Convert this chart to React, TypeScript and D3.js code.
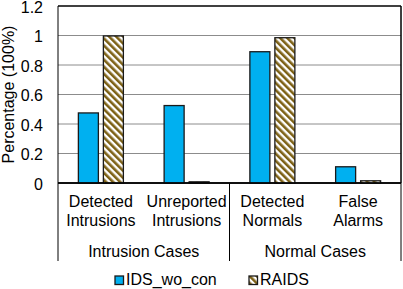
import React from 'react';
import * as d3 from 'd3';

const categories = ['Detected Intrusions', 'Unreported Intrusions', 'Detected Normals', 'False Alarms'];
const categoryLines = [['Detected', 'Intrusions'], ['Unreported', 'Intrusions'], ['Detected', 'Normals'], ['False', 'Alarms']];
const groups = ['Intrusion Cases', 'Normal Cases'];
const seriesNames = ['IDS_wo_con', 'RAIDS'];
const idsWoCon = [0.475, 0.525, 0.89, 0.11];
const raids = [0.997, 0.008, 0.985, 0.015];
const yTicks = [0, 0.2, 0.4, 0.6, 0.8, 1, 1.2];

const W = 403;
const H = 289;
const left = 58;
const right = 401;
const top = 6;
const bottom = 183;
const font = "'Liberation Sans', Arial, sans-serif";

export default function App() {
    const x = d3.scaleBand().domain(categories).range([left, right]).paddingInner(0).paddingOuter(0);
    const y = d3.scaleLinear().domain([0, 1.2]).range([bottom, top]);
    const barW = 20;
    const gap = 5;
    const series = [idsWoCon, raids];
    const fills = ['#00B0F0', 'url(#hatch)'];

    // group divider positions
    const groupEdges = [left, x(categories[2]) as number, right];

    return (
        <svg width={W} height={H} style={{ position: 'absolute', left: 0, top: 0, fontFamily: font }}>
            <defs>
                <pattern id="hatch" patternUnits="userSpaceOnUse" width="5" height="5" patternTransform="rotate(-45)">
                    <rect width="5" height="5" fill="#fff" />
                    <rect width="2.6" height="5" fill="#7d6115" />
                </pattern>
            </defs>
            <rect x={0} y={0} width={W} height={H} fill="#fff" />
            {/* grid */}
            {yTicks.map(t => (
                <line key={t} x1={left} x2={right} y1={y(t)} y2={y(t)} stroke={t === 0 || t === 1.2 ? '#000' : '#8c8c8c'} strokeWidth={t === 0 || t === 1.2 ? 1.3 : 1} />
            ))}
            {yTicks.map(t => (
                <text key={'l' + t} x={left - 15} y={y(t)} dy="0.42em" textAnchor="end" fontSize={16}>{String(t)}</text>
            ))}
            <line x1={right} x2={right} y1={top} y2={bottom} stroke="#000" />
            <text transform={`translate(14,${(top + bottom) / 2}) rotate(-90)`} textAnchor="middle" fontSize={16}>Percentage (100%)</text>

            {/* bars */}
            {categories.map((c, i) => {
                const cx = (x(c) as number) + x.bandwidth() / 2;
                return series.map((s, j) => {
                    const bx = j === 0 ? cx - gap / 2 - barW : cx + gap / 2;
                    return (
                        <rect key={c + j} x={bx} y={y(s[i])} width={barW} height={bottom - y(s[i])} fill={fills[j]} stroke="#1a1a1a" strokeWidth={1.3} />
                    );
                });
            })}

            {/* axis */}
            <line x1={left} x2={right} y1={bottom} y2={bottom} stroke="#000" strokeWidth={1.3} />
            <line x1={left} x2={left} y1={top} y2={261} stroke="#000" />
            {groupEdges.slice(1).map((gx, i) => (
                <line key={'g' + i} x1={gx} x2={gx} y1={i === 0 ? bottom : top} y2={261} stroke="#000" />
            ))}
            {categories.map((c, i) => {
                const cx = (x(c) as number) + x.bandwidth() / 2;
                return categoryLines[i].map((ln, k) => (
                    <text key={c + k} x={cx} y={207 + k * 19} textAnchor="middle" fontSize={16}>{ln}</text>
                ));
            })}
            {groups.map((g, i) => (
                <text key={g} x={(groupEdges[i] + groupEdges[i + 1]) / 2} y={257} textAnchor="middle" fontSize={16}>{g}</text>
            ))}

            {/* legend */}
            {seriesNames.map((n, i) => {
                const lx = i === 0 ? 115 : 249;
                return (
                    <g key={n}>
                        <rect x={lx} y={276} width={8.5} height={8.5} fill={fills[i]} stroke="#1a1a1a" strokeWidth={1.3} />
                        <text x={lx + 11} y={285} fontSize={16}>{n}</text>
                    </g>
                );
            })}
        </svg>
    );
}
